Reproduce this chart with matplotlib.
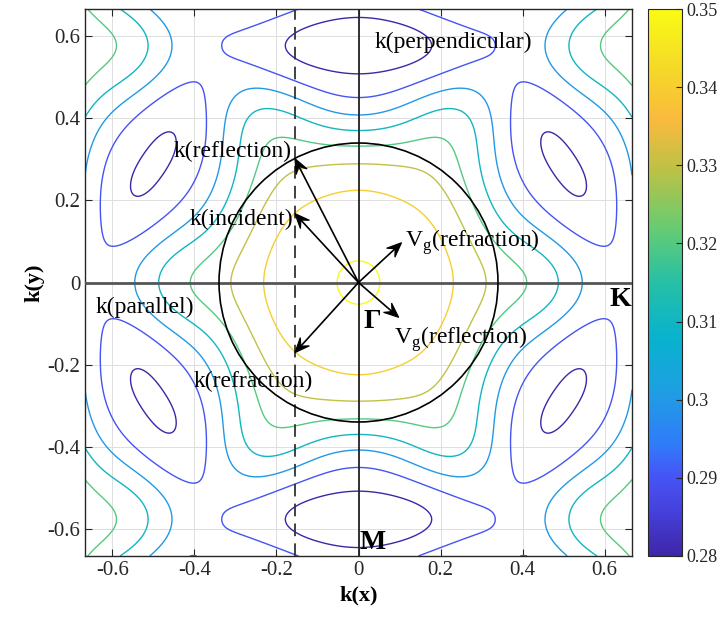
import numpy as np
import matplotlib
matplotlib.use("Agg")
import matplotlib.pyplot as plt
from matplotlib.colors import LinearSegmentedColormap, Normalize
from matplotlib.cm import ScalarMappable
from matplotlib.patches import Circle, Polygon

plt.rcParams["font.family"] = ["Liberation Serif", "DejaVu Serif"]
plt.rcParams["mathtext.fontset"] = "custom"
plt.rcParams["mathtext.rm"] = "Liberation Serif"
plt.rcParams["axes.unicode_minus"] = False

# equal-frequency crossings (a/lambda) along rays from Gamma, k in 2pi/a
gm_r = [0.0, 0.055, 0.22, 0.293, 0.34, 0.365, 0.40, 0.46, 0.505, 0.577, 0.646]  # 90 deg, to M
gm_f = [0.3508, 0.35, 0.34, 0.33, 0.32, 0.31, 0.30, 0.29, 0.28, 0.275, 0.28]
gs_r = [0.055, 0.225, 0.293, 0.34, 0.37, 0.41, 0.477, 0.539, 0.577, 0.615, 0.677]  # 30 deg, to side M
gs_f = [0.35, 0.34, 0.33, 0.32, 0.31, 0.30, 0.29, 0.28, 0.2785, 0.28, 0.29]
gk_r = [0.055, 0.23, 0.31, 0.417, 0.497, 0.55, 0.667]                           # 0 deg, to K
gk_f = [0.35, 0.34, 0.33, 0.32, 0.31, 0.30, 0.2905]
gk2_r = [0.055, 0.23, 0.31, 0.417, 0.497, 0.55]                                 # 60 deg, to K'
gk2_f = [0.35, 0.34, 0.33, 0.32, 0.31, 0.30]
# along the zone edge y = 1/sqrt(3), from the top M outwards
edge_x = [0.1, 0.205, 0.323, 0.333, 0.46, 0.515, 0.588]
edge_f = [0.2762, 0.28, 0.29, 0.2905, 0.30, 0.31, 0.32]
# along the zone edge through the side M, signed distance from M towards K'
side_d = [-0.287, -0.112, 0.112, 0.287]
side_f = [0.29, 0.28, 0.28, 0.29]

levels = [0.28, 0.29, 0.30, 0.31, 0.32, 0.33, 0.34, 0.35]
cbar_ticks = [0.28, 0.29, 0.30, 0.31, 0.32, 0.33, 0.34, 0.35]

# air light circle and the wave vectors drawn from Gamma
circle_r = 0.34
kx_par = -0.155
arrows = {
    "k_reflection": (kx_par, 0.302),
    "k_incident": (kx_par, 0.168),
    "k_refraction": (kx_par, -0.171),
    "vg_refraction": (0.105, 0.097),
    "vg_reflection": (0.098, -0.085),
}

parula = [(0.243, 0.150, 0.660), (0.275, 0.250, 0.860), (0.270, 0.340, 0.970),
          (0.190, 0.480, 0.980), (0.120, 0.620, 0.890), (0.030, 0.700, 0.800),
          (0.150, 0.750, 0.650), (0.400, 0.800, 0.450), (0.720, 0.760, 0.280),
          (0.980, 0.730, 0.240), (0.960, 0.860, 0.150), (0.977, 0.984, 0.080)]
cmap = LinearSegmentedColormap.from_list(
    "parula", list(zip([0, 0.08, 0.15, 0.2, 0.3, 0.4, 0.5, 0.6, 0.7, 0.8, 0.9, 1.0], parula)))
norm = Normalize(0.28, 0.35)

# triangular lattice (a = 1): cos(2pi kx Rx) cos(2pi ky Ry) over lattice vectors
# with Rx, Ry >= 0 (band surface symmetric about both axes)
h = np.sqrt(3) / 2
n1, n2 = np.meshgrid(np.arange(-8, 9), np.arange(0, 6))
Rx = (n1 + 0.5 * n2).ravel()
Ry = (h * n2).ravel()
keep = (Rx >= 0) & (Rx ** 2 + Ry ** 2 <= 21 + 1e-9)
Rx, Ry = Rx[keep], Ry[keep]
R2 = Rx ** 2 + Ry ** 2


def basis(kx, ky):
    kx = np.asarray(kx, float)[..., None]
    ky = np.asarray(ky, float)[..., None]
    return np.cos(2 * np.pi * kx * Rx) * np.cos(2 * np.pi * ky * Ry)


def ray(r, deg):
    t = np.radians(deg)
    return np.asarray(r) * np.cos(t), np.asarray(r) * np.sin(t)


m_side = np.array([0.5, 0.5 / np.sqrt(3)])
e_side = np.array([-0.5, h])
pts = [ray(gm_r, 90), ray(gs_r, 30), ray(gk_r, 0), ray(gk2_r, 60),
       (np.array(edge_x), np.full(len(edge_x), 1 / np.sqrt(3))),
       (m_side[0] + np.array(side_d) * e_side[0], m_side[1] + np.array(side_d) * e_side[1])]
px = np.concatenate([p[0] for p in pts])
py = np.concatenate([p[1] for p in pts])
pf = np.r_[gm_f, gs_f, gk_f, gk2_f, edge_f, side_f]

# smooth least-squares band surface through the crossings (curvature penalty)
A = basis(px, py)
lam = 2e-2
coef = np.linalg.solve(A.T @ A + np.diag(lam * R2 ** 2), A.T @ pf)

lim = 2 / 3
k = np.linspace(-lim, lim, 401)
KX, KY = np.meshgrid(k, k)
F = basis(KX, KY) @ coef

fig = plt.figure(figsize=(7.27, 6.24), dpi=100)
ax = fig.add_axes([85 / 727, 68 / 624, 547 / 727, 547 / 624])
cax = fig.add_axes([648 / 727, 68 / 624, 34 / 727, 547 / 624])

ax.contour(KX, KY, F, levels=levels, cmap=cmap, norm=norm, linewidths=1.0, zorder=2)

ax.axhline(0, color="#555555", lw=2.0, zorder=3)
ax.axvline(0, color="#222222", lw=1.3, zorder=3)
ax.axvline(kx_par, color="#333333", lw=1.3, ls=(0, (7, 4)), zorder=3)
ax.add_patch(Circle((0, 0), circle_r, fill=False, ec="black", lw=1.2, zorder=4))


def arrow(tip, L=0.036, W=0.015):
    tip = np.array(tip)
    d = tip / np.hypot(*tip)
    n = np.array([-d[1], d[0]])
    ax.plot([0, tip[0] - 0.5 * L * d[0]], [0, tip[1] - 0.5 * L * d[1]],
            color="black", lw=1.2, zorder=5)
    head = [tip, tip - L * d + W * n, tip - 0.6 * L * d, tip - L * d - W * n]
    ax.add_patch(Polygon(head, closed=True, fc="black", ec="black", lw=0.8, zorder=6))


for tip in arrows.values():
    arrow(tip)

fs = 17
ax.text(0.04, 0.585, "k(perpendicular)", fontsize=fs, va="center", ha="left", zorder=7)
ax.text(-0.164, 0.32, "k(reflection)", fontsize=fs, va="center", ha="right", zorder=7)
ax.text(-0.159, 0.154, "k(incident)", fontsize=fs, va="center", ha="right", zorder=7)
ax.text(-0.642, -0.061, "k(parallel)", fontsize=fs, va="center", ha="left", zorder=7)
ax.text(-0.402, -0.241, "k(refraction)", fontsize=fs, va="center", ha="left", zorder=7)
ax.text(0.113, 0.098, r"V$_\mathrm{g}$(refraction)", fontsize=fs, va="center", ha="left", zorder=7)
ax.text(0.086, -0.139, r"V$_\mathrm{g}$(reflection)", fontsize=fs, va="center", ha="left", zorder=7)
ax.text(0.012, -0.095, "Γ", fontsize=20, fontweight="bold", va="center", ha="left", zorder=7)
ax.text(0.665, -0.041, "K", fontsize=20, fontweight="bold", va="center", ha="right", zorder=7)
ax.text(0.002, -0.634, "M", fontsize=20, fontweight="bold", va="center", ha="left", zorder=7)

ticks = [-0.6, -0.4, -0.2, 0, 0.2, 0.4, 0.6]
ax.set_xlim(-lim, lim)
ax.set_ylim(-lim, lim)
ax.set_xticks(ticks)
ax.set_yticks(ticks)
ax.set_xticklabels([f"{t:g}" for t in ticks])
ax.set_yticklabels([f"{t:g}" for t in ticks])
ax.tick_params(direction="in", top=True, right=True, length=5, labelsize=15,
               colors="#262626", width=0.8)
ax.grid(True, color="#dedede", lw=0.7, zorder=0)
ax.set_axisbelow(True)
for sp in ax.spines.values():
    sp.set_color("#262626")
    sp.set_linewidth(1.0)
ax.set_xlabel("k(x)", fontsize=16, fontweight="bold", labelpad=4)
ax.set_ylabel("k(y)", fontsize=16, fontweight="bold", labelpad=2)

cb = fig.colorbar(ScalarMappable(norm=norm, cmap=cmap), cax=cax)
cb.set_ticks(cbar_ticks)
cb.set_ticklabels([f"{t:g}" for t in cbar_ticks])
cb.ax.tick_params(direction="in", length=4, labelsize=13, colors="#262626", width=0.8)
cb.outline.set_edgecolor("#262626")
cb.outline.set_linewidth(0.8)

fig.savefig("out.png", dpi=100)
